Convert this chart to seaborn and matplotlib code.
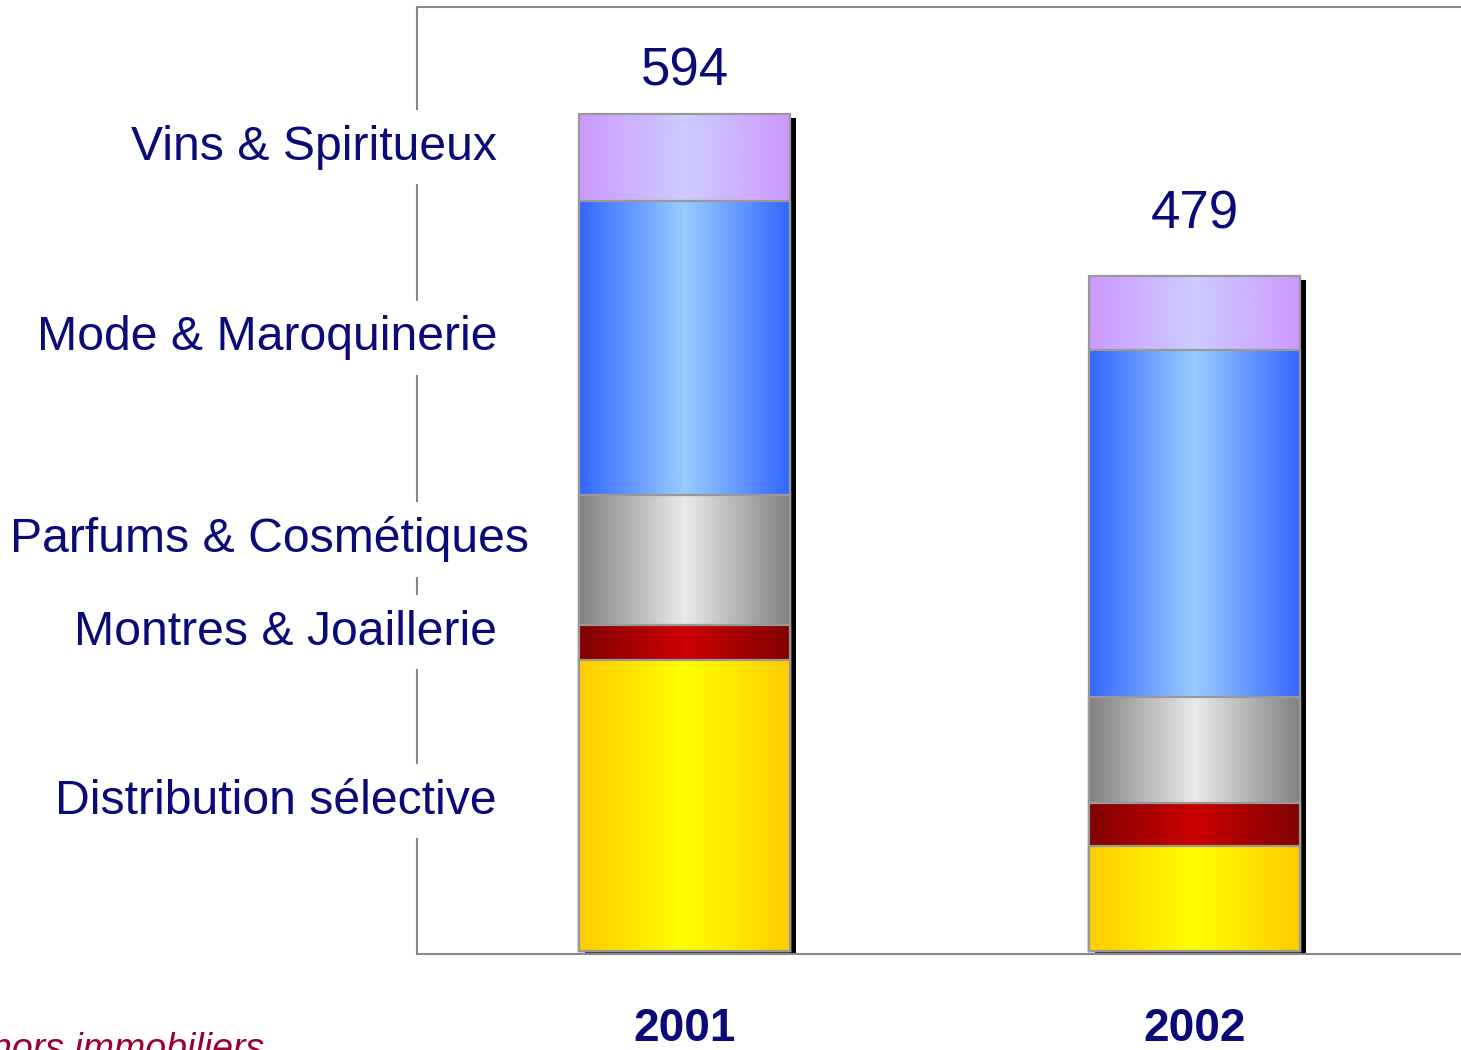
"""Stacked bar chart with gradient-filled segments (2001 vs 2002)."""

import matplotlib

matplotlib.use("Agg")

import matplotlib.patheffects as pe
import matplotlib.pyplot as plt
import numpy as np
import pandas as pd
import seaborn as sns
from matplotlib.colors import to_rgb

years = ["2001", "2002"]
totals = [594, 479]
segments = [
    "Distribution sélective",
    "Montres & Joaillerie",
    "Parfums & Cosmétiques",
    "Mode & Maroquinerie",
    "Vins & Spiritueux",
]
values_2001 = [206, 25, 92, 209, 62]
values_2002 = [74, 31, 75, 246, 53]
edge_colors = ["#FFCC00", "#800000", "#808080", "#3366FF", "#CC99FF"]
center_colors = ["#FFFF00", "#CC0000", "#EAEAEA", "#99CCFF", "#CCCCFF"]

# label layout (data y positions, right edge in axes fraction)
label_y = [106, 226, 292, 435, 570]
label_x = [0.0766, 0.0766, 0.107, 0.0766, 0.0766]
total_offsets = [20.5, 34]

NAVY = "#0A0A78"

sns.set_theme(style="white")
plt.rcParams["font.family"] = ["Liberation Sans", "DejaVu Sans"]

fig = plt.figure(figsize=(14.61, 10.5), dpi=100)
ax = fig.add_axes([0.2854, 0.0914, 0.7155, 0.9019])

stack = pd.DataFrame({"year": years})
cum = np.cumsum(np.array([values_2001, values_2002]), axis=1)

width = 0.414
z = 2
for level in range(len(segments) - 1, -1, -1):
    stack["cum"] = cum[:, level]
    before = len(ax.patches)
    sns.barplot(data=stack, x="year", y="cum", color=edge_colors[level],
                width=width, ax=ax, zorder=z, linewidth=0)
    new_patches = ax.patches[before:]
    edge = np.array(to_rgb(edge_colors[level]))
    center = np.array(to_rgb(center_colors[level]))
    u = np.linspace(0, 1, 256)
    t = np.abs(2 * u - 1)[:, None]
    grad = (center * (1 - t) + edge * t)[None, :, :]
    for p in new_patches:
        x0, y0 = p.get_x(), p.get_y()
        w, h = p.get_width(), p.get_height()
        if level == len(segments) - 1:
            p.set_path_effects([
                pe.SimplePatchShadow(offset=(4.3, -3.4), shadow_rgbFace="black", alpha=1.0),
                pe.Normal(),
            ])
        im = ax.imshow(grad, extent=[x0, x0 + w, y0, y0 + h], aspect="auto",
                       zorder=z + 0.5, interpolation="bilinear")
        im.set_clip_path(p)
        rect = plt.Rectangle((x0, y0), w, h, fill=False, edgecolor="#999999",
                             linewidth=1.6, zorder=z + 0.7)
        ax.add_patch(rect)
    z += 2

ax.set_xlim(-0.5245, 1.5245)
ax.set_ylim(-2.5, 669.6)
ax.set_xlabel("")
ax.set_ylabel("")
ax.set_yticks([])
ax.tick_params(axis="x", length=0, pad=38)
for lab in ax.get_xticklabels():
    lab.set_fontsize(33)
    lab.set_fontweight("bold")
    lab.set_color(NAVY)

for side in ["left", "top", "bottom", "right"]:
    ax.spines[side].set_color("#888888")
    ax.spines[side].set_linewidth(1.5)
ax.set_facecolor("white")

for i, total in enumerate(totals):
    ax.annotate(str(total), xy=(i, total), xytext=(0, total_offsets[i]),
                textcoords="offset points", ha="center", va="baseline",
                fontsize=38, color=NAVY, zorder=20)

for name, y, x in zip(segments, label_y, label_x):
    ax.text(x, y, name, transform=ax.get_yaxis_transform(), ha="right",
            va="center", fontsize=34.7, color=NAVY, zorder=20, clip_on=False,
            bbox=dict(boxstyle="square,pad=0.3", facecolor="white", edgecolor="none"))

fig.text(-0.006, -0.0095, "hors immobiliers", fontsize=27, style="italic",
         color="#990033", ha="left", va="baseline")

fig.savefig("out.png", dpi=100)
plt.close(fig)
